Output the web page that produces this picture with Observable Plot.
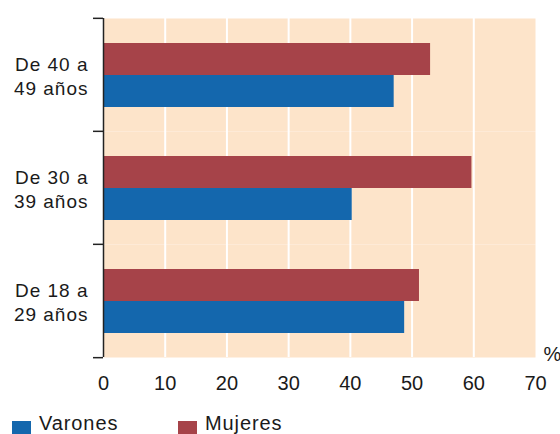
<!DOCTYPE html>
<html><head><meta charset="utf-8">
<script src="https://cdn.jsdelivr.net/npm/d3@7"></script>
<script src="https://cdn.jsdelivr.net/npm/@observablehq/plot@0.6"></script>
<style>
body{margin:0;background:#fff;font-family:"Liberation Sans",Arial,sans-serif;color:#1a1a1a;}
#chart svg{display:block;}
g[aria-label="fy-axis tick label"] text{letter-spacing:1px;}
#legend{position:relative;width:560px;height:34px;}
#legend .sw{position:absolute;top:21px;width:19px;height:13px;}
#legend .lb{position:absolute;top:13px;font-size:20px;line-height:20px;letter-spacing:0.9px;white-space:nowrap;}
</style></head><body>
<div id="chart"></div>
<div id="legend"></div>
<script>
const groups = ["De 40 a\n49 años", "De 30 a\n39 años", "De 18 a\n29 años"];
const series = ["Mujeres", "Varones"];
const mujeres = [53.0, 59.7, 51.2];
const varones = [47.1, 40.3, 48.8];
const xTicks = [0, 10, 20, 30, 40, 50, 60, 70];
const seriesColors = ["#a64349", "#1467ad"];
const legendOrder = ["Varones", "Mujeres"];
const unitLabel = "%";

const data = groups.flatMap((g, i) => [
  {group: g, series: series[0], value: mujeres[i]},
  {group: g, series: series[1], value: varones[i]}
]);

const W = 560, H = 400, mt = 17, mb = 43, ml = 103, mr = 25;
const half = (H - mt - mb) / groups.length / 2;

const chart = Plot.plot({
  width: W, height: H,
  marginTop: mt, marginBottom: mb, marginLeft: ml, marginRight: mr,
  style: {fontFamily: "Liberation Sans, Arial, sans-serif", fontSize: "19px", color: "#1a1a1a", background: "white", overflow: "visible"},
  x: {domain: [0, 70], ticks: xTicks},
  y: {domain: series, paddingInner: 0, paddingOuter: 0.74, axis: null},
  fy: {domain: groups, padding: 0},
  color: {domain: series, range: seriesColors},
  marks: [
    Plot.frame({fill: "#fde4ca", stroke: "none"}),
    Plot.ruleX(xTicks.filter(t => t > 0 && t < 70), {stroke: "white", strokeWidth: 2}),
    Plot.barX(data, {x: "value", y: "series", fy: "group", fill: "series"}),
    Plot.ruleX([0], {stroke: "#222", strokeWidth: 1.5}),
    Plot.axisX({ticks: xTicks, tickSize: 0, tickPadding: 18, fontSize: 20, label: null}),
    Plot.axisFy({anchor: "left", tickSize: 0, tickPadding: 15, label: null, lineHeight: 1.3, fontSize: 19}),
    Plot.axisFy({anchor: "left", tickSize: 10, text: null, label: null, dy: -half, stroke: "#222", strokeWidth: 1.5}),
    Plot.axisFy({anchor: "left", ticks: [groups[groups.length - 1]], tickSize: 10, text: null, label: null, dy: half, stroke: "#222", strokeWidth: 1.5}),
    Plot.text([unitLabel], {text: d => d, fy: () => groups[groups.length - 1], frameAnchor: "bottom-right", textAnchor: "start", lineAnchor: "bottom", dx: 8, dy: 3, fontSize: 20})
  ]
});
document.getElementById("chart").appendChild(chart);

const legend = document.getElementById("legend");
const lefts = [12, 178];
legendOrder.forEach((s, i) => {
  const sw = document.createElement("div");
  sw.className = "sw";
  sw.style.left = lefts[i] + "px";
  sw.style.background = seriesColors[series.indexOf(s)];
  const lb = document.createElement("div");
  lb.className = "lb";
  lb.style.left = (lefts[i] + 27) + "px";
  lb.textContent = s;
  legend.appendChild(sw);
  legend.appendChild(lb);
});
</script>
</body></html>
